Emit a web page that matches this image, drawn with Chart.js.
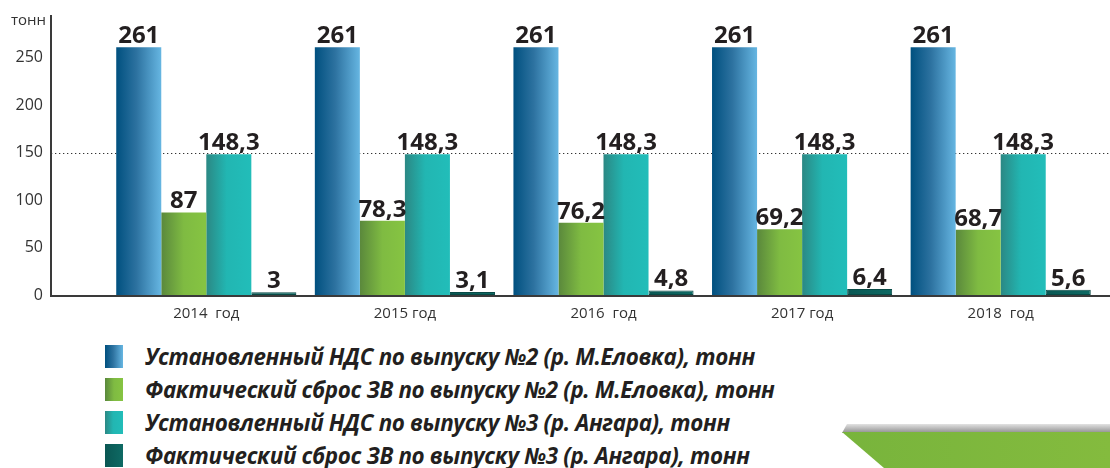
<!DOCTYPE html>
<html><head><meta charset="utf-8">
<script src="https://cdn.jsdelivr.net/npm/chart.js@4"></script>
<style>
html,body{margin:0;padding:0;background:#fff;}
#wrap{position:relative;width:1110px;height:468px;overflow:hidden;background:#fff;}
#c{position:absolute;left:0;top:0;display:block;}
#legend{position:absolute;left:105px;top:340px;}
.item{display:flex;align-items:center;height:33px;}
.sw{width:18px;height:23px;margin-right:22px;flex:none;}
.txt{font:italic bold 22.4px 'Open Sans',sans-serif;color:#231f20;white-space:nowrap;letter-spacing:-0.35px;}
#decoGray{position:absolute;left:842px;top:424px;width:268px;height:9px;background:linear-gradient(#e2e2e2,#8f8f8f);clip-path:polygon(5px 0,100% 0,100% 100%,0 100%);}
#decoGreen{position:absolute;left:842px;top:432px;width:268px;height:36px;background:linear-gradient(90deg,#78b43c,#84bb3e);clip-path:polygon(0 0,100% 0,100% 100%,42px 100%);}
</style></head>
<body>
<div id="wrap">
  <canvas id="c" width="1110" height="330"></canvas>
  <div id="legend"></div>
  <div id="decoGray"></div>
  <div id="decoGreen"></div>
</div>
<script>
// ---- data ----
const years = ['2014  год', '2015 год', '2016  год', '2017 год', '2018  год'];
const ndsVypusk2 = [261, 261, 261, 261, 261];
const faktVypusk2 = [87, 78.3, 76.2, 69.2, 68.7];
const ndsVypusk3 = [148.3, 148.3, 148.3, 148.3, 148.3];
const faktVypusk3 = [3, 3.1, 4.8, 6.4, 5.6];
const seriesLabels = [
  'Установленный НДС по выпуску №2 (р. М.Еловка), тонн',
  'Фактический сброс ЗВ по выпуску №2 (р. М.Еловка), тонн',
  'Установленный НДС по выпуску №3 (р. Ангара), тонн',
  'Фактический сброс ЗВ по выпуску №3 (р. Ангара), тонн'
];
const yUnit = 'тонн';
const yTickStep = 50;
const referenceLine = 150;

// ---- styles ----
const gradStops = [
  [[0, '#00507f'], [0.45, '#2d72a0'], [1, '#66b6e2']],
  [[0, '#5a883c'], [0.5, '#7fbb42'], [1, '#86c442']],
  [[0, '#2b8884'], [0.45, '#22b6b2'], [1, '#22bdb9']],
  [[0, '#0a5753'], [1, '#0e6a64']]
];
const FONT = "'Open Sans', sans-serif";

function barFill(ctx) {
  const stops = gradStops[ctx.datasetIndex];
  const el = ctx.element;
  if (!el || el.x == null || isNaN(el.x) || !el.width) return stops[stops.length - 1][1];
  const g = ctx.chart.ctx.createLinearGradient(el.x - el.width / 2, 0, el.x + el.width / 2, 0);
  stops.forEach(s => g.addColorStop(s[0], s[1]));
  return g;
}

// legend (HTML)
const legendEl = document.getElementById('legend');
seriesLabels.forEach((lab, i) => {
  const row = document.createElement('div'); row.className = 'item';
  const sw = document.createElement('div'); sw.className = 'sw';
  sw.style.background = 'linear-gradient(90deg,' + gradStops[i].map(s => s[1] + ' ' + (s[0] * 100) + '%').join(',') + ')';
  const t = document.createElement('span'); t.className = 'txt'; t.textContent = lab;
  row.appendChild(sw); row.appendChild(t); legendEl.appendChild(row);
});

const fmt = v => String(v).replace('.', ',');

const decorPlugin = {
  id: 'decor',
  beforeDatasetsDraw(chart) {
    const { ctx, scales: { y }, chartArea } = chart;
    const yy = Math.round(y.getPixelForValue(referenceLine)) + 0.5;
    ctx.save();
    ctx.strokeStyle = '#333';
    ctx.lineWidth = 1;
    ctx.setLineDash([1.3, 2.7]);
    ctx.beginPath();
    ctx.moveTo(chartArea.left - 56, yy);
    ctx.lineTo(chart.width, yy);
    ctx.stroke();
    ctx.restore();
  },
  afterDatasetsDraw(chart) {
    const { ctx, scales: { y }, chartArea } = chart;
    ctx.save();
    ctx.font = 'bold 24px ' + FONT;
    ctx.fillStyle = '#231f20';
    ctx.textAlign = 'center';
    ctx.textBaseline = 'alphabetic';
    chart.data.datasets.forEach((ds, di) => {
      chart.getDatasetMeta(di).data.forEach((el, i) => {
        ctx.fillText(fmt(ds.data[i]), el.x, el.y - 4);
      });
    });
    ctx.restore();
    const x0 = chartArea.left - 56;
    const yb = y.getPixelForValue(0);
    const yt = y.getPixelForValue(y.max);
    ctx.save();
    ctx.strokeStyle = '#3a3a3a';
    ctx.lineWidth = 2;
    ctx.beginPath();
    ctx.moveTo(x0, yt);
    ctx.lineTo(x0, yb + 1);
    ctx.lineTo(chart.width, yb + 1);
    ctx.stroke();
    ctx.font = '15px ' + FONT;
    ctx.fillStyle = '#333';
    ctx.textAlign = 'right';
    ctx.textBaseline = 'middle';
    ctx.fillText(yUnit, x0 - 5, yt + 6);
    ctx.restore();
  }
};

const mk = (i, arr) => ({
  label: seriesLabels[i],
  data: arr,
  backgroundColor: barFill,
  borderWidth: i === 3 ? 1 : 0,
  borderColor: '#084a46',
  borderSkipped: false
});

const chart = new Chart(document.getElementById('c'), {
  type: 'bar',
  data: {
    labels: years,
    datasets: [mk(0, ndsVypusk2), mk(1, faktVypusk2), mk(2, ndsVypusk3), mk(3, faktVypusk3)]
  },
  options: {
    responsive: false,
    animation: false,
    events: [],
    layout: { padding: { top: 15, right: 10, left: 0, bottom: 0 } },
    datasets: { bar: { categoryPercentage: 0.907, barPercentage: 1.0 } },
    plugins: { legend: { display: false }, tooltip: { enabled: false } },
    scales: {
      x: {
        grid: { display: false, drawTicks: false },
        border: { display: false },
        ticks: { font: { family: FONT, size: 15 }, color: '#333', padding: 10, maxRotation: 0, autoSkip: false },
        afterFit: s => { s.height = 35; s.paddingLeft = 0; s.paddingRight = 0; }
      },
      y: {
        min: 0, max: 295,
        grid: { display: false, drawTicks: false },
        border: { display: false },
        ticks: {
          stepSize: yTickStep,
          font: { family: FONT, size: 16 }, color: '#333', padding: 64,
          callback: v => (v % yTickStep === 0 ? v : null)
        },
        afterFit: s => { s.width = 107; s.paddingTop = 0; s.paddingBottom = 0; }
      }
    }
  },
  plugins: [decorPlugin]
});
chart.update();
</script>
</body></html>
